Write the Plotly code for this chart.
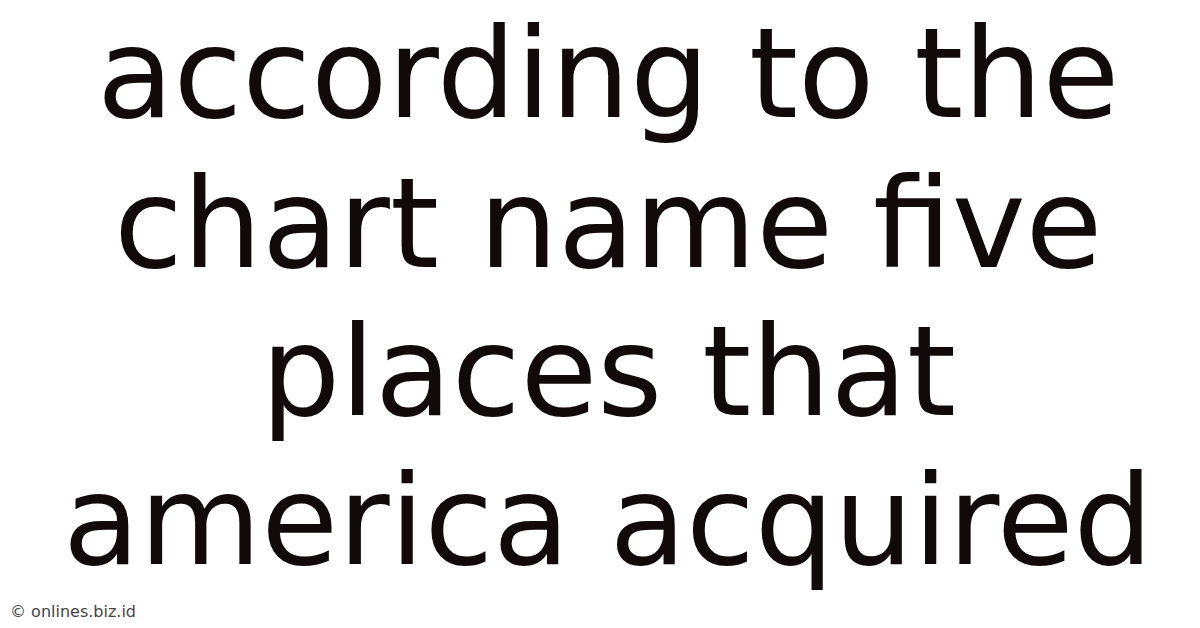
import plotly.graph_objs as go

# texto de la imagen, una linea por entrada
lineas = ["according to the", "chart name five", "places that", "america acquired"]
centros_px = [66, 215, 363, 512]   # centro vertical de cada linea (px desde arriba)
marca = "© onlines.biz.id"

ALTO = 628
ANCHO = 1200

fig = go.Figure()

for texto, cy in zip(lineas, centros_px):
    fig.add_annotation(
        text=texto,
        x=0.5, y=1 - cy / ALTO,
        xref="paper", yref="paper",
        xanchor="center", yanchor="middle",
        showarrow=False,
        font=dict(family="DejaVu Sans", size=125, color="#120a0a"),
    )

fig.add_annotation(
    text=marca,
    x=0, y=1 - 603 / ALTO,
    xref="paper", yref="paper",
    xanchor="left", yanchor="middle",
    showarrow=False,
    font=dict(family="DejaVu Sans", size=16, color="#444444"),
)

fig.update_layout(
    width=ANCHO, height=ALTO,
    margin=dict(l=0, r=0, t=0, b=0),
    paper_bgcolor="white", plot_bgcolor="white",
    xaxis=dict(visible=False), yaxis=dict(visible=False),
    showlegend=False,
)

fig.write_html("out.html")
